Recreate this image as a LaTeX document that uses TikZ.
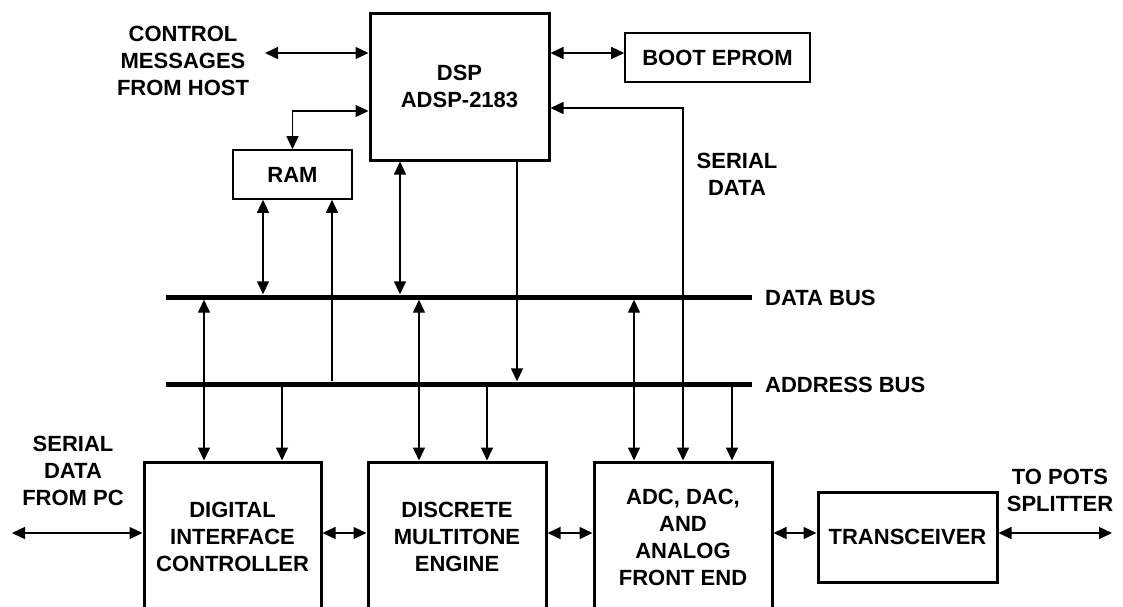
\documentclass[tikz,border=0pt]{standalone}
\usepackage{fontspec}
\setmainfont{Liberation Sans}
\usetikzlibrary{arrows.meta}
\begin{document}
\begin{tikzpicture}[x=1pt,y=-1pt,
  font=\bfseries\fontsize{22}{27}\selectfont,
  >={Triangle[length=13pt,width=12pt]},
  conn/.style={line width=1.4pt},
  thickbox/.style={draw,line width=3pt,inner sep=0pt,align=center},
  thinbox/.style={draw,line width=1.6pt,inner sep=0pt,align=center},
  bus/.style={fill=black,inner sep=0pt,minimum width=586pt,minimum height=5pt},
  lbl/.style={align=center,inner sep=0pt}]
\useasboundingbox (0,0) rectangle (1123,606);

% blocks
\node[thickbox,minimum width=179pt,minimum height=147pt] (dsp) at (459.5,86.5) {DSP\\ADSP-2183};
\node[thinbox,minimum width=185pt,minimum height=49pt] (boot) at (717.5,57.5) {BOOT EPROM};
\node[thinbox,minimum width=119pt,minimum height=49pt] (ram) at (292.5,174.5) {RAM};
\node[thickbox,minimum width=177pt,minimum height=150pt] (dic) at (232.5,537) {DIGITAL\\INTERFACE\\CONTROLLER};
\node[thickbox,minimum width=178pt,minimum height=150pt] (dme) at (457,537) {DISCRETE\\MULTITONE\\ENGINE};
\node[thickbox,minimum width=178pt,minimum height=150pt] (adc) at (683,537) {ADC, DAC,\\AND\\ANALOG\\FRONT END};
\node[thickbox,minimum width=179pt,minimum height=90pt] (trx) at (907.5,537) {TRANSCEIVER};

% buses
\node[bus] (dbus) at (459,297) {};
\node[bus] (abus) at (459,384) {};

% labels
\node[lbl] (lctrl) at (183,61) {CONTROL\\MESSAGES\\FROM HOST};
\node[lbl] (lser) at (737,174) {SERIAL\\DATA};
\node[lbl,anchor=west] (ldbus) at (765,298) {DATA BUS};
\node[lbl,anchor=west] (labus) at (765,385) {ADDRESS BUS};
\node[lbl] (lpc) at (73,471) {SERIAL\\DATA\\FROM PC};
\node[lbl] (lpots) at (1060,490) {TO POTS\\SPLITTER};

% free ends
\coordinate (ctrlend) at (265,53);
\coordinate (pcend) at (12,533);
\coordinate (potsend) at (1112,533);
\coordinate (yboot) at (0,53);
\coordinate (yram) at (0,111);
\coordinate (yser) at (0,108);
\coordinate (yh) at (0,533);

% top connectors
\draw[conn,<->] (ctrlend) -- (dsp.west |- ctrlend);
\draw[conn,<->] (dsp.east |- yboot) -- (boot.west |- yboot);
\draw[conn,<->] (dsp.west |- yram) -| (ram.north);
\draw[conn,<->] (dsp.east |- yser) -| (adc.north);

% DSP to buses
\draw[conn,<->] (dsp.south -| 400,0) -- (dbus.north -| 400,0);
\draw[conn,->] (dsp.south -| 517,0) -- (abus.north -| 517,0);

% RAM to buses
\draw[conn,<->] (ram.south -| 263,0) -- (dbus.north -| 263,0);
\draw[conn,->] (abus.north -| 332,0) -- (ram.south -| 332,0);

% buses to lower blocks
\draw[conn,<->] (dbus.south -| 204,0) -- (dic.north -| 204,0);
\draw[conn,->] (abus.south -| 282,0) -- (dic.north -| 282,0);
\draw[conn,<->] (dbus.south -| 419,0) -- (dme.north -| 419,0);
\draw[conn,->] (abus.south -| 487,0) -- (dme.north -| 487,0);
\draw[conn,<->] (dbus.south -| 634,0) -- (adc.north -| 634,0);
\draw[conn,->] (abus.south -| 732,0) -- (adc.north -| 732,0);

% horizontal chain
\draw[conn,<->] (pcend) -- (dic.west |- pcend);
\draw[conn,<->] (dic.east |- yh) -- (dme.west |- yh);
\draw[conn,<->] (dme.east |- yh) -- (adc.west |- yh);
\draw[conn,<->] (adc.east |- yh) -- (trx.west |- yh);
\draw[conn,<->] (trx.east |- potsend) -- (potsend);
\end{tikzpicture}
\end{document}
